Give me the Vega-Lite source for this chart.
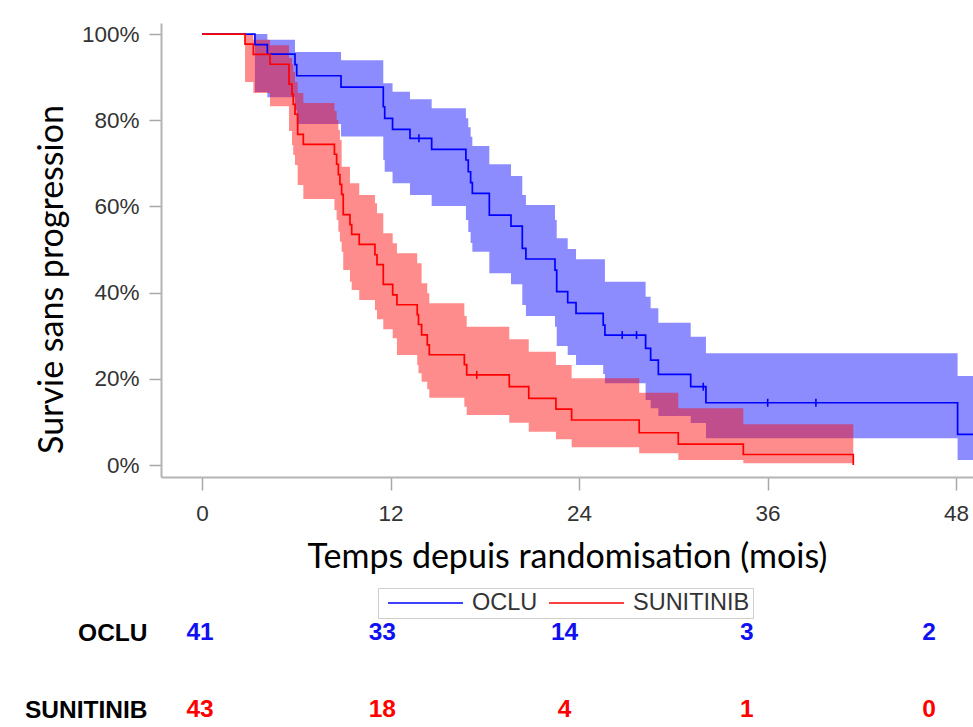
{
  "$schema": "https://vega.github.io/schema/vega-lite/v6.json",
  "autosize": {"type": "none"},
  "padding": {"left": 161, "top": 23, "right": 812, "bottom": 704},
  "background": "white",
  "bounds": "flush",
  "spacing": 156,
  "datasets": {
    "km": [
      {"group": "OCLU", "t": 0, "S": 100, "lo": 100, "hi": 100},
      {"group": "OCLU", "t": 3.37, "S": 97.56, "lo": 86.54, "hi": 100},
      {"group": "OCLU", "t": 4.16, "S": 95.36, "lo": 85.31, "hi": 98.68},
      {"group": "OCLU", "t": 5.92, "S": 92.88, "lo": 82.37, "hi": 95.82},
      {"group": "OCLU", "t": 6.03, "S": 90.32, "lo": 79.12, "hi": 95.82},
      {"group": "OCLU", "t": 8.85, "S": 87.7, "lo": 76.22, "hi": 93.9},
      {"group": "OCLU", "t": 11.54, "S": 83.13, "lo": 70.77, "hi": 88.56},
      {"group": "OCLU", "t": 11.63, "S": 80.44, "lo": 68.05, "hi": 88.56},
      {"group": "OCLU", "t": 12.13, "S": 77.89, "lo": 65.36, "hi": 86.61},
      {"group": "OCLU", "t": 13.24, "S": 75.8, "lo": 62.65, "hi": 84.85},
      {"group": "OCLU", "t": 14.62, "S": 73.25, "lo": 60.09, "hi": 82.76},
      {"group": "OCLU", "t": 16.8, "S": 70.77, "lo": 56.84, "hi": 80.44},
      {"group": "OCLU", "t": 16.95, "S": 68.05, "lo": 54.06, "hi": 78.35},
      {"group": "OCLU", "t": 17.1, "S": 65.5, "lo": 51.51, "hi": 76.17},
      {"group": "OCLU", "t": 17.21, "S": 63.04, "lo": 49.49, "hi": 74.01},
      {"group": "OCLU", "t": 18.29, "S": 58.0, "lo": 44.48, "hi": 69.77},
      {"group": "OCLU", "t": 19.67, "S": 55.45, "lo": 41.93, "hi": 67.05},
      {"group": "OCLU", "t": 20.39, "S": 50.28, "lo": 37.12, "hi": 62.65},
      {"group": "OCLU", "t": 20.62, "S": 47.8, "lo": 34.57, "hi": 60.32},
      {"group": "OCLU", "t": 22.47, "S": 45.24, "lo": 32.09, "hi": 56.84},
      {"group": "OCLU", "t": 22.58, "S": 40.21, "lo": 27.61, "hi": 52.6},
      {"group": "OCLU", "t": 23.28, "S": 37.66, "lo": 25.52, "hi": 50.12},
      {"group": "OCLU", "t": 23.81, "S": 35.2, "lo": 23.2, "hi": 47.73},
      {"group": "OCLU", "t": 25.54, "S": 32.48, "lo": 21.11, "hi": 47.73},
      {"group": "OCLU", "t": 25.65, "S": 30.16, "lo": 18.96, "hi": 42.53},
      {"group": "OCLU", "t": 28.24, "S": 27.08, "lo": 15.08, "hi": 39.05},
      {"group": "OCLU", "t": 28.56, "S": 24.36, "lo": 13.16, "hi": 36.36},
      {"group": "OCLU", "t": 29.05, "S": 21.04, "lo": 11.37, "hi": 33.02},
      {"group": "OCLU", "t": 31.11, "S": 18.17, "lo": 9.74, "hi": 29.77},
      {"group": "OCLU", "t": 32.08, "S": 14.45, "lo": 6.19, "hi": 25.92},
      {"group": "OCLU", "t": 48.1, "S": 7.12, "lo": 1.16, "hi": 20.65},
      {"group": "OCLU", "t": 49.3, "S": 7.12, "lo": 1.16, "hi": 20.65},
      {"group": "SUNITINIB", "t": 0, "S": 100, "lo": 100, "hi": 100},
      {"group": "SUNITINIB", "t": 2.74, "S": 97.68, "lo": 88.86, "hi": 99.84},
      {"group": "SUNITINIB", "t": 3.27, "S": 95.29, "lo": 86.31, "hi": 98.68},
      {"group": "SUNITINIB", "t": 4.33, "S": 92.99, "lo": 83.23, "hi": 97.38},
      {"group": "SUNITINIB", "t": 5.54, "S": 88.4, "lo": 77.49, "hi": 94.43},
      {"group": "SUNITINIB", "t": 5.73, "S": 86.01, "lo": 74.25, "hi": 93.04},
      {"group": "SUNITINIB", "t": 5.81, "S": 83.69, "lo": 71.93, "hi": 91.18},
      {"group": "SUNITINIB", "t": 5.92, "S": 81.39, "lo": 69.61, "hi": 88.86},
      {"group": "SUNITINIB", "t": 6.09, "S": 76.71, "lo": 64.97, "hi": 86.31},
      {"group": "SUNITINIB", "t": 6.45, "S": 74.41, "lo": 61.72, "hi": 83.99},
      {"group": "SUNITINIB", "t": 8.43, "S": 72.11, "lo": 59.16, "hi": 82.13},
      {"group": "SUNITINIB", "t": 8.57, "S": 69.79, "lo": 56.84, "hi": 80.05},
      {"group": "SUNITINIB", "t": 8.68, "S": 67.4, "lo": 54.13, "hi": 77.73},
      {"group": "SUNITINIB", "t": 8.78, "S": 65.1, "lo": 51.81, "hi": 75.41},
      {"group": "SUNITINIB", "t": 8.89, "S": 62.81, "lo": 49.49, "hi": 69.21},
      {"group": "SUNITINIB", "t": 8.99, "S": 58.1, "lo": 45.24, "hi": 69.21},
      {"group": "SUNITINIB", "t": 9.42, "S": 55.8, "lo": 42.53, "hi": 65.36},
      {"group": "SUNITINIB", "t": 9.53, "S": 53.5, "lo": 40.6, "hi": 65.36},
      {"group": "SUNITINIB", "t": 10.01, "S": 51.21, "lo": 38.28, "hi": 62.65},
      {"group": "SUNITINIB", "t": 11.01, "S": 48.79, "lo": 35.96, "hi": 60.72},
      {"group": "SUNITINIB", "t": 11.14, "S": 46.5, "lo": 33.8, "hi": 58.4},
      {"group": "SUNITINIB", "t": 11.54, "S": 41.9, "lo": 31.48, "hi": 53.76},
      {"group": "SUNITINIB", "t": 12.14, "S": 39.49, "lo": 29.4, "hi": 51.44},
      {"group": "SUNITINIB", "t": 12.41, "S": 37.19, "lo": 25.52, "hi": 49.12},
      {"group": "SUNITINIB", "t": 13.7, "S": 34.9, "lo": 23.2, "hi": 46.8},
      {"group": "SUNITINIB", "t": 13.78, "S": 32.6, "lo": 21.28, "hi": 46.8},
      {"group": "SUNITINIB", "t": 13.98, "S": 30.21, "lo": 19.33, "hi": 42.16},
      {"group": "SUNITINIB", "t": 14.34, "S": 27.89, "lo": 17.56, "hi": 39.84},
      {"group": "SUNITINIB", "t": 14.47, "S": 25.59, "lo": 15.61, "hi": 37.52},
      {"group": "SUNITINIB", "t": 16.7, "S": 23.29, "lo": 13.53, "hi": 34.57},
      {"group": "SUNITINIB", "t": 16.85, "S": 20.9, "lo": 11.6, "hi": 32.09},
      {"group": "SUNITINIB", "t": 19.56, "S": 18.17, "lo": 9.81, "hi": 29.16},
      {"group": "SUNITINIB", "t": 20.8, "S": 15.48, "lo": 7.73, "hi": 26.29},
      {"group": "SUNITINIB", "t": 22.53, "S": 12.99, "lo": 5.96, "hi": 23.2},
      {"group": "SUNITINIB", "t": 23.53, "S": 10.44, "lo": 4.11, "hi": 20.12},
      {"group": "SUNITINIB", "t": 27.83, "S": 7.49, "lo": 2.71, "hi": 16.77},
      {"group": "SUNITINIB", "t": 30.32, "S": 4.87, "lo": 1.16, "hi": 13.16},
      {"group": "SUNITINIB", "t": 34.46, "S": 2.44, "lo": 0.39, "hi": 9.44},
      {"group": "SUNITINIB", "t": 41.46, "S": 0, "lo": 0.39, "hi": 9.44}
    ],
    "cens": [
      {"group": "OCLU", "t": 13.81, "S": 75.8},
      {"group": "OCLU", "t": 26.75, "S": 30.16},
      {"group": "OCLU", "t": 27.66, "S": 30.16},
      {"group": "OCLU", "t": 31.91, "S": 18.17},
      {"group": "OCLU", "t": 36.01, "S": 14.45},
      {"group": "OCLU", "t": 39.08, "S": 14.45},
      {"group": "SUNITINIB", "t": 17.49, "S": 20.9}
    ],
    "risk": [
      {"group": "OCLU", "t": 0, "n": 41},
      {"group": "OCLU", "t": 12, "n": 33},
      {"group": "OCLU", "t": 24, "n": 14},
      {"group": "OCLU", "t": 36, "n": 3},
      {"group": "OCLU", "t": 48, "n": 2},
      {"group": "SUNITINIB", "t": 0, "n": 43},
      {"group": "SUNITINIB", "t": 12, "n": 18},
      {"group": "SUNITINIB", "t": 24, "n": 4},
      {"group": "SUNITINIB", "t": 36, "n": 1},
      {"group": "SUNITINIB", "t": 48, "n": 0}
    ]
  },
  "resolve": {"scale": {"color": "independent"}, "legend": {"color": "independent"}},
  "vconcat": [
    {
      "width": 812,
      "height": 454,
      "encoding": {
        "x": {
          "field": "t", "type": "quantitative",
          "scale": {"domain": [-2.61, 49.08], "nice": false, "zero": false},
          "axis": {
            "values": [0, 12, 24, 36, 48],
            "title": "Temps depuis randomisation (mois)",
            "titleFont": "Lato", "titleFontSize": 34, "titleFontWeight": "normal", "titleColor": "black",
            "titleY": 90, "titleBaseline": "alphabetic",
            "labelFont": "Liberation Sans", "labelFontSize": 22.5, "labelColor": "#333333", "labelPadding": 12,
            "labelFlush": false,
            "tickSize": 13, "tickColor": "#a8a8a8", "tickWidth": 1.5,
            "domainColor": "#b4b4b4", "domainWidth": 2, "grid": false
          }
        }
      },
      "layer": [
        {
          "data": {"name": "km"},
          "mark": {"type": "area", "interpolate": "step-after", "fillOpacity": 0.45, "clip": true},
          "encoding": {
            "y": {
              "field": "lo", "type": "quantitative",
              "scale": {"domain": [-2.78, 102.56], "nice": false, "zero": false},
              "axis": {
                "values": [0, 20, 40, 60, 80, 100],
                "labelExpr": "datum.value + '%'",
                "title": "Survie sans progression",
                "titleFont": "Lato", "titleFontSize": 34, "titleFontWeight": "normal", "titleColor": "black",
                "titleX": -99, "titleY": 256, "titleBaseline": "alphabetic", "titleAlign": "center",
                "labelFont": "Liberation Sans", "labelFontSize": 22.5, "labelColor": "#333333", "labelPadding": 10,
                "tickSize": 12, "tickColor": "#a8a8a8", "tickWidth": 1.5,
                "domainColor": "#b4b4b4", "domainWidth": 2, "grid": false
              }
            },
            "y2": {"field": "hi"},
            "fill": {
              "field": "group", "type": "nominal",
              "scale": {"domain": ["OCLU", "SUNITINIB"], "range": ["#0000ff", "#ff0000"]},
              "legend": null
            }
          }
        },
        {
          "data": {"name": "km"},
          "mark": {"type": "line", "interpolate": "step-after", "strokeWidth": 1.7, "clip": true},
          "encoding": {
            "y": {"field": "S", "type": "quantitative"},
            "color": {
              "field": "group", "type": "nominal",
              "scale": {"domain": ["OCLU", "SUNITINIB"], "range": ["#0000ff", "#ff0000"]},
              "legend": {
                "orient": "none", "legendX": 217, "legendY": 565, "direction": "horizontal",
                "title": null, "symbolType": "stroke", "symbolSize": 5625, "symbolStrokeWidth": 1.6,
                "symbolOffset": 6, "clipHeight": 24, "symbolOpacity": 0.75,
                "labelFont": "Liberation Sans", "labelFontSize": 23.5, "labelColor": "#333333",
                "labelOffset": 8, "columnPadding": 4,
                "strokeColor": "#cfcfcf", "padding": 3
              }
            }
          }
        },
        {
          "data": {"name": "cens"},
          "mark": {"type": "point", "shape": "M0,-1L0,1", "size": 64, "filled": false, "strokeWidth": 1.6, "opacity": 1, "clip": true},
          "encoding": {
            "y": {"field": "S", "type": "quantitative"},
            "color": {"field": "group", "type": "nominal"}
          }
        }
      ]
    },
    {
      "width": 812,
      "height": 77,
      "data": {"name": "risk"},
      "mark": {"type": "text", "font": "Liberation Sans", "fontWeight": "bold", "fontSize": 24.5, "baseline": "middle"},
      "encoding": {
        "x": {
          "field": "t", "type": "quantitative",
          "scale": {"domain": [-2.57, 50.89], "nice": false, "zero": false},
          "axis": null
        },
        "y": {
          "field": "group", "type": "nominal",
          "scale": {"type": "point", "domain": ["OCLU", "SUNITINIB"], "padding": 0},
          "axis": {
            "title": null, "domain": false, "ticks": false, "grid": false,
            "labelFont": "Liberation Sans", "labelFontWeight": "bold", "labelFontSize": 24.5,
            "labelColor": "black", "labelPadding": 14
          }
        },
        "text": {"field": "n", "type": "quantitative"},
        "color": {
          "field": "group", "type": "nominal",
          "scale": {"domain": ["OCLU", "SUNITINIB"], "range": ["#1010f0", "#ff0000"]},
          "legend": null
        }
      }
    }
  ],
  "config": {"view": {"stroke": null}}
}
